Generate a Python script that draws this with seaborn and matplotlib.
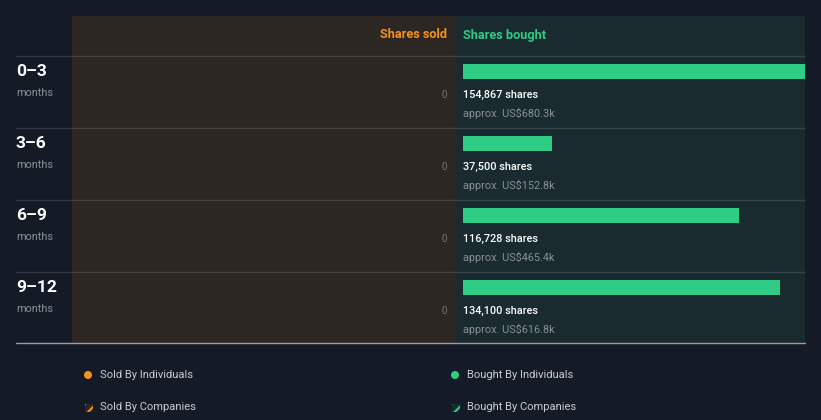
import matplotlib
matplotlib.use("Agg")
import matplotlib.pyplot as plt
import seaborn as sns
import pandas as pd
from matplotlib.patches import Rectangle, Circle

periods = ["0–3", "3–6", "6–9", "9–12"]
shares_bought = [154867, 37500, 116728, 134100]
bought_value = ["US$680.3k", "US$152.8k", "US$465.4k", "US$616.8k"]
shares_sold = [0, 0, 0, 0]

BG = "#151b26"
SOLD_BG = "#2c2723"
BUY_BG = "#192b2e"
GREEN = "#2ecc84"
ORANGE = "#f5921f"
GREY = "#8a8f98"

sns.set_theme(style="white")
plt.rcParams["font.family"] = ["Roboto", "DejaVu Sans"]
plt.rcParams["hatch.linewidth"] = 1.5

W, H = 821, 420
fig = plt.figure(figsize=(W / 100, H / 100), dpi=100)
fig.patch.set_facecolor(BG)

def ax_rect(x0, y0, x1, y1):
    return [x0 / W, 1 - y1 / H, (x1 - x0) / W, (y1 - y0) / H]

# background / decoration axes in pixel coordinates
bg = fig.add_axes([0, 0, 1, 1])
bg.set_xlim(0, W)
bg.set_ylim(H, 0)
bg.axis("off")
bg.add_patch(Rectangle((72, 16), 383, 327, color=SOLD_BG, lw=0, zorder=0))
bg.add_patch(Rectangle((455, 16), 350, 327, color=BUY_BG, lw=0, zorder=0))
for k in range(4):
    y = 56 + 72 * k
    bg.plot([16, 805], [y, y], color="#ffffff", alpha=0.12, lw=1, zorder=1)
bg.plot([16, 805], [343, 343], color="#9a9ea4", lw=1, zorder=1)

for k, p in enumerate(periods):
    top = 56 + 72 * k
    bg.text(16, top + 15.5, p, color="white", fontsize=12.5, fontweight="bold",
            va="center", ha="left")
    bg.text(16, top + 37, "months", color=GREY, fontsize=7.8, va="center", ha="left")

bg.text(447, 35, "Shares sold", color=ORANGE, fontsize=9.2, fontweight="bold",
        ha="right", va="center")
bg.text(463, 35, "Shares bought", color=GREEN, fontsize=9.2, fontweight="bold",
        ha="left", va="center")

# legend
bg.add_patch(Circle((88, 375), 4, color=ORANGE, lw=0))
bg.add_patch(Circle((455, 375), 4, color=GREEN, lw=0))
bg.add_patch(Rectangle((84.5, 403.5), 8, 8, facecolor=SOLD_BG, edgecolor=ORANGE, hatch="///", lw=0))
bg.add_patch(Rectangle((451.5, 403.5), 8, 8, facecolor=BUY_BG, edgecolor=GREEN, hatch="///", lw=0))
for x, y, t in [(100, 375, "Sold By Individuals"), (100, 407, "Sold By Companies"),
                (467, 375, "Bought By Individuals"), (467, 407, "Bought By Companies")]:
    bg.text(x, y, t, color="#c9ccd1", fontsize=8, va="center", ha="left")

def yd(py):
    return (py - 71.5) / 72.0

df = pd.DataFrame({"period": periods, "bought": shares_bought, "sold": shares_sold})

# bought axes
axb = fig.add_axes(ax_rect(455, 16, 805, 343))
axb.set_facecolor("none")
sns.barplot(data=df, y="period", x="bought", orient="h", color=GREEN,
            width=0.21, saturation=1, linewidth=0, ax=axb)
px = 144670 / 342.0
axb.set_xlim(-8 * px, 342 * px)
axb.set_ylim(yd(343), yd(16))
axb.axis("off")
for i, (s, v) in enumerate(zip(shares_bought, bought_value)):
    axb.text(0, i + yd(95) - yd(71.5), f"{s:,} shares", color="white",
             fontsize=7.8, fontweight="medium", va="center", ha="left")
    axb.text(0, i + yd(113) - yd(71.5), f"approx. {v}", color=GREY,
             fontsize=7.8, va="center", ha="left")

# sold axes
axs = fig.add_axes(ax_rect(72, 16, 455, 343))
axs.set_facecolor("none")
sns.barplot(data=df, y="period", x="sold", orient="h", color=ORANGE,
            width=0.21, saturation=1, linewidth=0, ax=axs)
axs.set_xlim(1, 0)
axs.set_ylim(yd(343), yd(16))
axs.axis("off")
for i, s in enumerate(shares_sold):
    axs.text(1 - 375 / 383.0, i + yd(95) - yd(71.5), f"{s:,}", color="#6f7278",
             fontsize=7.2, va="center", ha="right")

fig.savefig("out.png", dpi=100, facecolor=BG)
